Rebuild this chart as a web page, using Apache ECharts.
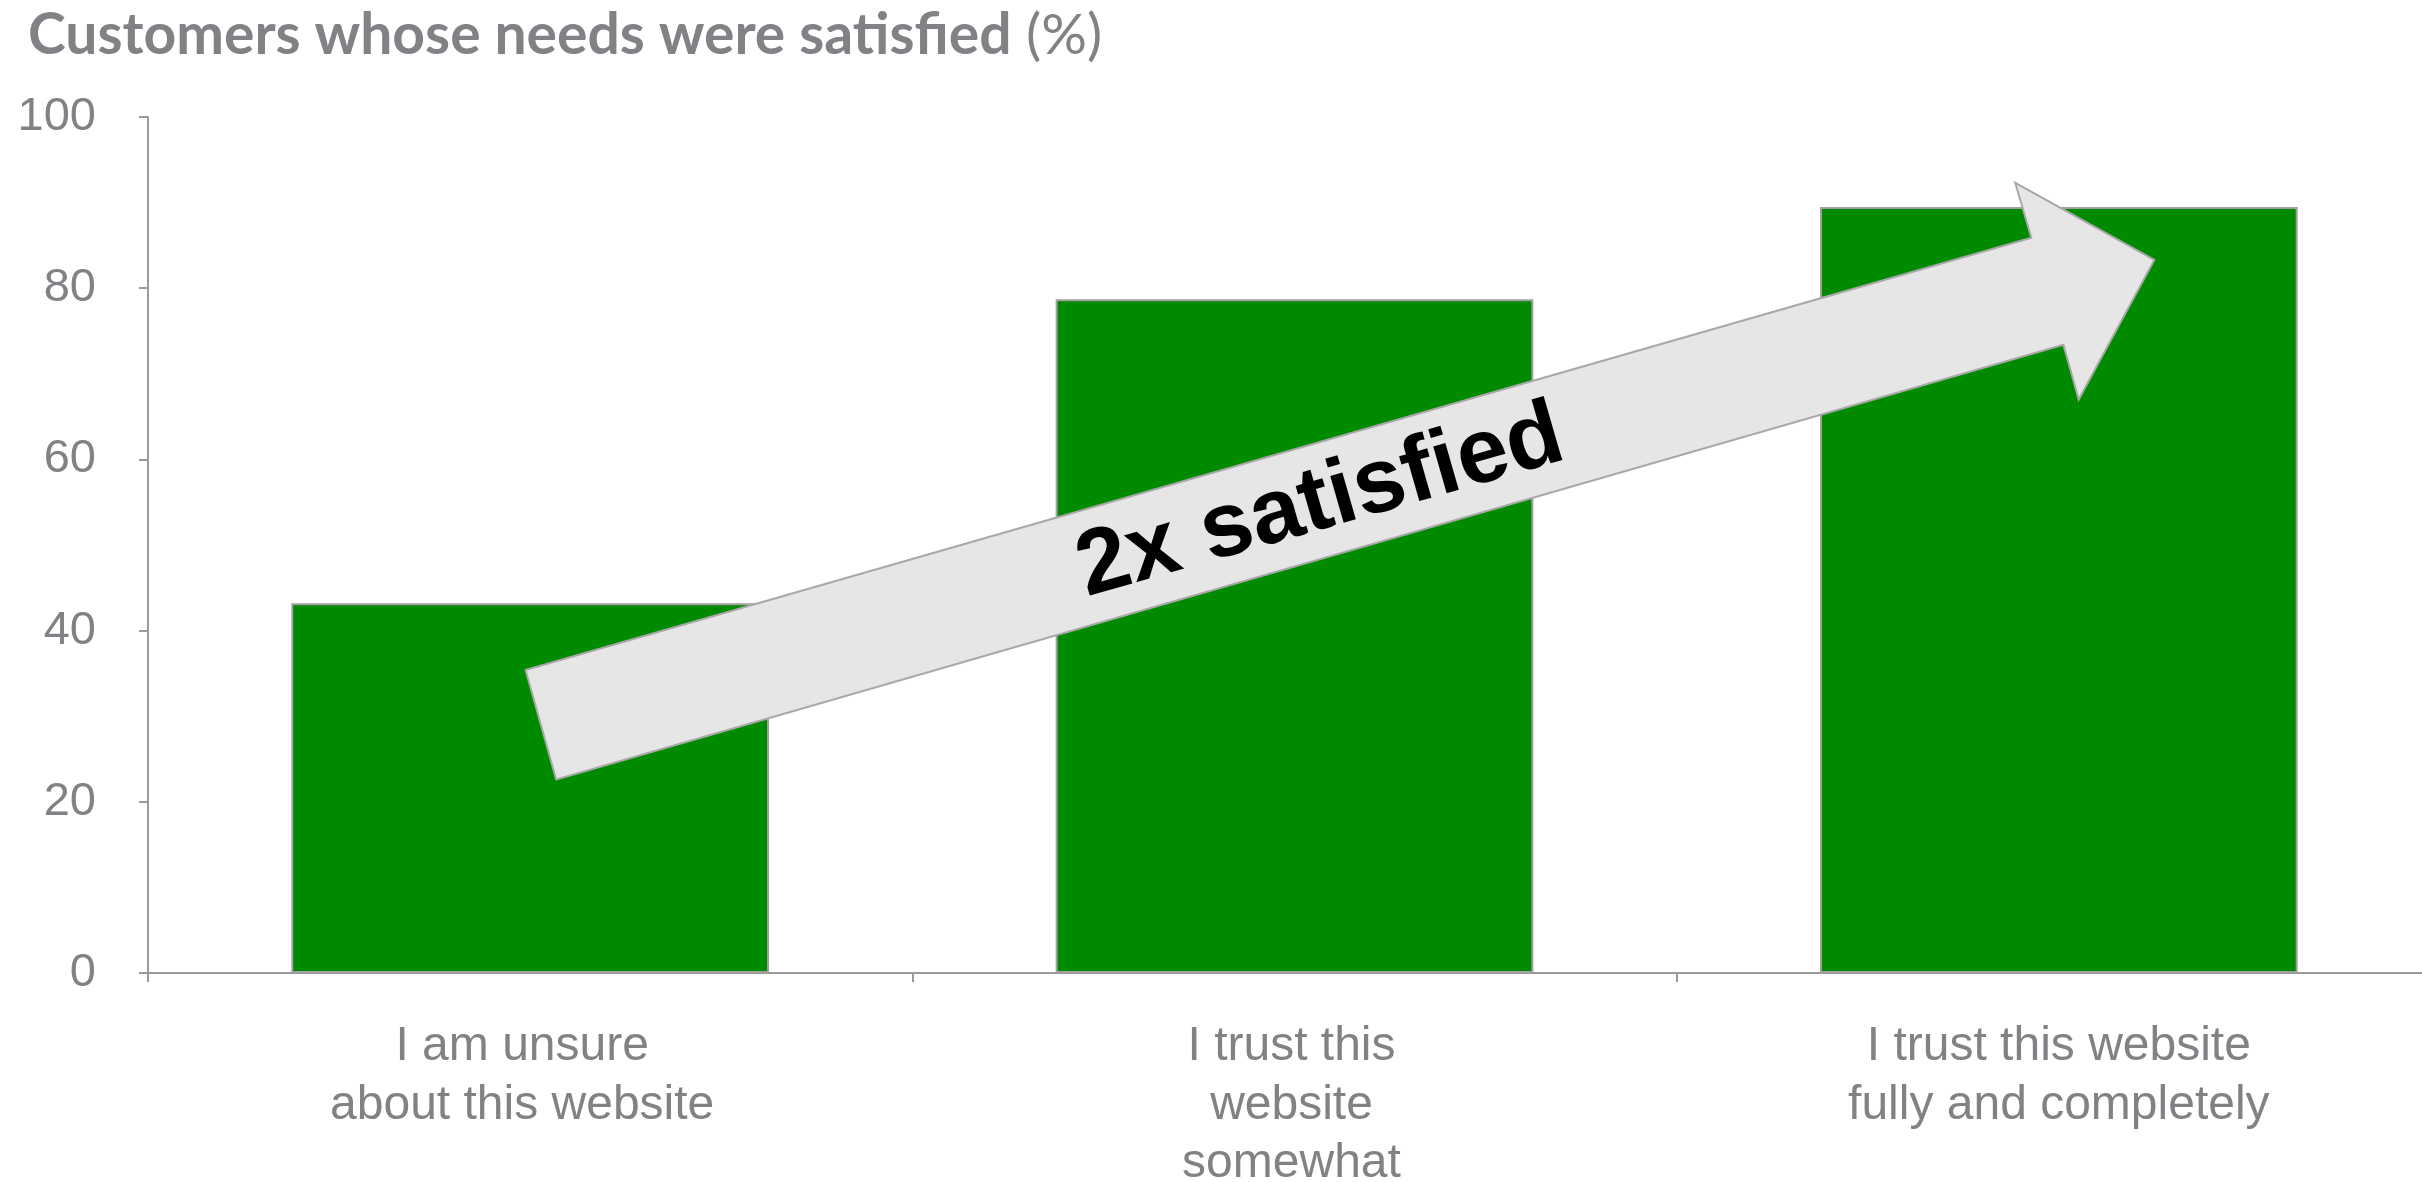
<!DOCTYPE html>
<html>
<head>
<meta charset="utf-8">
<script src="https://cdn.jsdelivr.net/npm/echarts@6/dist/echarts.min.js"></script>
<style>
  html, body { margin: 0; padding: 0; background: #fff; }
  #chart { width: 2422px; height: 1182px; }
</style>
</head>
<body>
<div id="chart"></div>
<script>
// Chart data
const titleMain = 'Customers whose needs were satisfied';
const titleUnit = '(%)';
const categories = [
    'I am unsure\nabout this website',
    'I trust this\nwebsite\nsomewhat',
    'I trust this website\nfully and completely'
];
const satisfied = [43.2, 78.7, 89.5];
const yMin = 0, yMax = 100, yStep = 20;

// Arrow outline, x in category widths from the y axis, y in %
const arrowX = [0.494, 2.464, 2.443, 2.625, 2.526, 2.506, 0.534];
const arrowY = [35.4, 85.9, 92.3, 83.3, 67.0, 73.4, 22.6];
const arrowText = '2x satisfied';
const arrowTextPos = [1.534, 54.9];

const grey = '#808285';
const axisGrey = '#9a9a9a';
const font = '"Liberation Sans", Arial, sans-serif';

// the first label sits a little left of its bar in the original
const labelShift = [16, 6, 0];

let chart = echarts.init(document.getElementById('chart'));

let option = {
    animation: false,
    title: {
        text: '{b|' + titleMain + '}{n| ' + titleUnit + '}',
        left: 23,
        top: 2,
        textStyle: {
            rich: {
                b: { fontFamily: 'Lato, sans-serif', fontWeight: 'bold', fontSize: 57, color: grey },
                n: { fontFamily: 'Lato, sans-serif', fontWeight: 'normal', fontSize: 57, color: grey }
            }
        }
    },
    grid: {
        left: 148,
        right: -19,
        top: 117,
        bottom: 209,
        outerBoundsMode: 'none'
    },
    xAxis: [{
        type: 'category',
        data: categories.map((c, i) => ({
            value: c,
            textStyle: { padding: [0, labelShift[i], 0, 0] }
        })),
        axisLine: { lineStyle: { color: axisGrey, width: 2 } },
        axisTick: { show: true, length: 9, lineStyle: { color: axisGrey, width: 2 } },
        axisLabel: {
            interval: 0,
            margin: 45,
            color: grey,
            fontFamily: font,
            fontSize: 48,
            lineHeight: 58.5
        }
    }, {
        // hidden linear axis used to place the arrow
        type: 'value',
        min: 0,
        max: 3,
        show: false
    }],
    yAxis: {
        type: 'value',
        min: yMin,
        max: yMax,
        interval: yStep,
        axisLine: { show: true, lineStyle: { color: axisGrey, width: 2 } },
        axisTick: { show: true, length: 9, lineStyle: { color: axisGrey, width: 2 } },
        splitLine: { show: false },
        axisLabel: {
            margin: 52,
            color: grey,
            fontFamily: font,
            fontSize: 47
        }
    },
    series: [{
        type: 'bar',
        data: satisfied,
        barWidth: '62.5%',
        itemStyle: {
            color: '#008a00',
            borderColor: '#a0a0a0',
            borderWidth: 2
        }
    }, {
        type: 'custom',
        xAxisIndex: 1,
        yAxisIndex: 0,
        silent: true,
        clip: false,
        z: 5,
        data: [[0, 0]],
        renderItem: function (params, api) {
            let pts = arrowX.map((x, i) => api.coord([x, arrowY[i]]));
            let a = pts[0], b = pts[1];
            let angle = Math.atan2(a[1] - b[1], b[0] - a[0]);
            let c = api.coord(arrowTextPos);
            return {
                type: 'group',
                children: [{
                    type: 'polygon',
                    shape: { points: pts },
                    style: { fill: '#e6e6e6', stroke: '#a8a8a8', lineWidth: 2 }
                }, {
                    type: 'text',
                    x: c[0],
                    y: c[1],
                    rotation: angle,
                    style: {
                        text: arrowText,
                        fill: '#000',
                        font: 'bold 92px ' + font,
                        align: 'center',
                        verticalAlign: 'middle'
                    }
                }]
            };
        }
    }]
};

chart.setOption(option);
</script>
</body>
</html>
